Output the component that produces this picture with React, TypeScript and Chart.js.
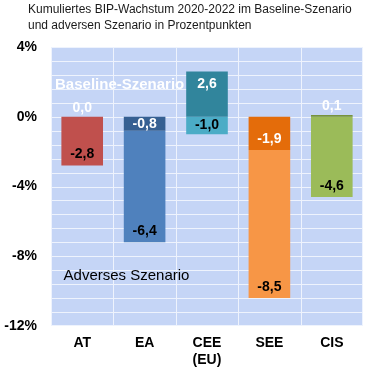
import React, { useEffect, useRef } from "react";
import { Chart, registerables } from "chart.js";

Chart.register(...registerables);

const categories: string[][] = [["AT"], ["EA"], ["CEE", "(EU)"], ["SEE"], ["CIS"]];
const baselineValues = [0.0, -0.8, 2.6, -1.9, 0.1];
const adverseValues = [-2.8, -6.4, -1.0, -8.5, -4.6];
const baselineColors = ["#943634", "#366092", "#31859C", "#E46C0A", "#77933C"];
const adverseColors = ["#C0504D", "#4F81BD", "#4BACC6", "#F79646", "#9BBB59"];
const titleLines = [
  "Kumuliertes BIP-Wachstum 2020-2022 im Baseline-Szenario",
  "und adversen Szenario in Prozentpunkten",
];
const baselineLabel = "Baseline-Szenario";
const adverseLabel = "Adverses Szenario";
const yMin = -12;
const yMax = 4;
const gridStep = 0.8;
const labelStep = 4;

const FONT = "'Liberation Sans', Arial, sans-serif";

const fmt = (v: number) => v.toFixed(1).replace(".", ",");

const overlayPlugin = {
  id: "overlay",
  beforeDraw(chart: any) {
    const { ctx } = chart;
    ctx.save();
    ctx.fillStyle = "#ffffff";
    ctx.fillRect(0, 0, chart.width, chart.height);
    ctx.restore();
  },
  beforeDatasetsDraw(chart: any) {
    const { ctx, chartArea } = chart;
    const ys = chart.scales.y;
    const left = chartArea.left;
    const top = chartArea.top;
    const w = chartArea.right - chartArea.left;
    const h = chartArea.bottom - chartArea.top;
    ctx.save();
    ctx.fillStyle = "#C5D5F6";
    ctx.fillRect(left, top, w, h);
    ctx.fillStyle = "#EEF3FD";
    const nY = Math.round((yMax - yMin) / gridStep);
    for (let k = 0; k <= nY; k++) {
      const y = Math.round(ys.getPixelForValue(yMin + k * gridStep));
      ctx.fillRect(left, Math.min(y, chartArea.bottom - 1), w, 1);
    }
    const n = categories.length;
    for (let i = 0; i <= n; i++) {
      const x = Math.round(left + (i * w) / n);
      ctx.fillRect(Math.min(x, chartArea.right - 1), top, 1, h);
    }
    ctx.restore();
  },
  afterDatasetsDraw(chart: any) {
    const { ctx } = chart;
    ctx.save();
    ctx.textAlign = "center";
    ctx.textBaseline = "middle";
    chart.data.datasets.forEach((ds: any, di: number) => {
      const meta = chart.getDatasetMeta(di);
      meta.data.forEach((el: any, i: number) => {
        const v = ds.data[i] as number;
        const top = Math.min(el.y, el.base);
        const bottom = Math.max(el.y, el.base);
        const mid = (top + bottom) / 2;
        let ly: number;
        if (Math.abs(v) < 0.3) {
          ly = top - 9;
        } else if (v > 0) {
          ly = Math.min(top + 13, mid);
        } else {
          ly = Math.max(bottom - 11, mid);
        }
        ctx.font = `bold 14px ${FONT}`;
        ctx.fillStyle = di === 0 ? "#ffffff" : "#000000";
        ctx.fillText(fmt(v), el.x, ly);
      });
    });
    const xs = chart.scales.x;
    const ys = chart.scales.y;
    ctx.font = `bold 15px ${FONT}`;
    ctx.fillStyle = "#ffffff";
    ctx.fillText(baselineLabel, xs.getPixelForValue(0.6), ys.getPixelForValue(1.85));
    ctx.font = `15px ${FONT}`;
    ctx.fillStyle = "#000000";
    ctx.fillText(adverseLabel, xs.getPixelForValue(0.71), ys.getPixelForValue(-9.15));

    ctx.textAlign = "left";
    ctx.font = `12px ${FONT}`;
    ctx.fillStyle = "#1a1a1a";
    titleLines.forEach((t, k) => ctx.fillText(t, 28, 9.5 + k * 16));
    ctx.restore();
  },
};

export default function App() {
  const ref = useRef<HTMLCanvasElement>(null);
  useEffect(() => {
    if (!ref.current) return;
    const chart = new Chart(ref.current, {
      type: "bar",
      data: {
        labels: categories,
        datasets: [
          {
            label: baselineLabel,
            data: baselineValues,
            backgroundColor: baselineColors,
            borderWidth: 0,
            barPercentage: 0.667,
            categoryPercentage: 1,
          },
          {
            label: adverseLabel,
            data: adverseValues,
            backgroundColor: adverseColors,
            borderWidth: 0,
            barPercentage: 0.667,
            categoryPercentage: 1,
          },
        ],
      },
      options: {
        responsive: false,
        animation: false,
        devicePixelRatio: 1,
        layout: { padding: { top: 47, left: 0, right: 7, bottom: 0 } },
        plugins: {
          legend: { display: false },
          title: { display: false },
          tooltip: { enabled: false },
        },
        scales: {
          x: {
            stacked: true,
            grid: { display: false, drawTicks: false },
            border: { display: false },
            ticks: {
              color: "#000000",
              font: { family: FONT, size: 14, weight: "bold" },
              padding: 9,
            },
            afterFit: (s: any) => {
              s.height = 50;
            },
          },
          y: {
            stacked: true,
            min: yMin,
            max: yMax,
            grid: { display: false, drawTicks: false },
            border: { display: false },
            ticks: {
              stepSize: labelStep,
              color: "#000000",
              font: { family: FONT, size: 14, weight: "bold" },
              padding: 14,
              callback: (val: any) => `${val}%`,
            },
            afterFit: (s: any) => {
              s.width = 51;
            },
          },
        },
      },
      plugins: [overlayPlugin],
    });
    return () => chart.destroy();
  }, []);
  return (
    <div style={{ position: "fixed", left: 0, top: 0, width: 370, height: 376, background: "#fff" }}>
      <canvas ref={ref} width={370} height={376} />
    </div>
  );
}
